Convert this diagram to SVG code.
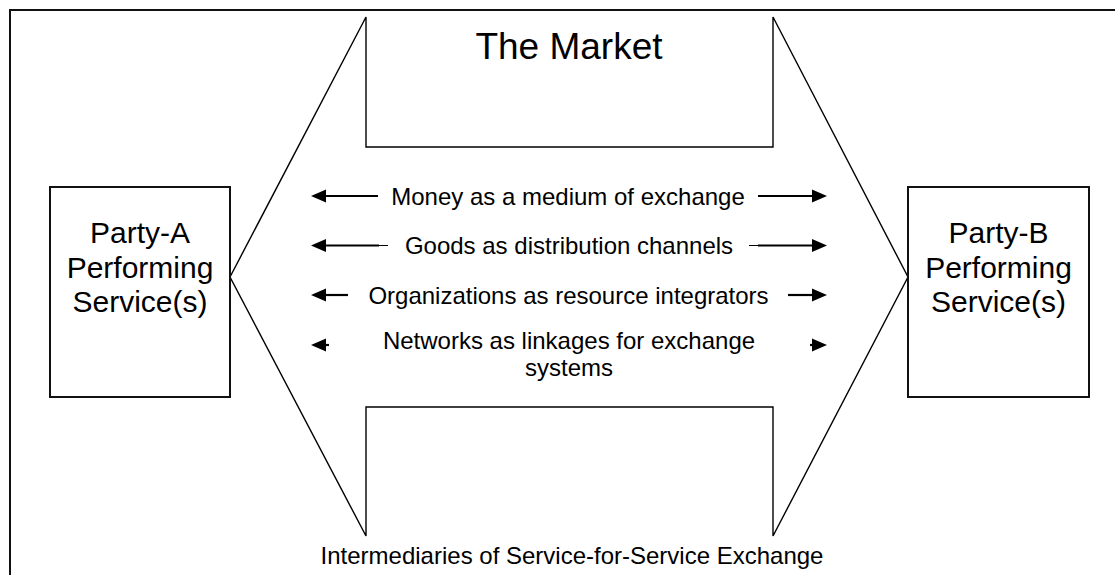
<svg xmlns="http://www.w3.org/2000/svg" width="1115" height="575" viewBox="0 0 1115 575">
  <style>
    .t { font-family: "Liberation Sans", Arial, sans-serif; fill: #000; text-anchor: middle; }
    .row { font-size: 24px; }
    .party { font-size: 30px; }
    .box { fill: #fff; stroke: #111; stroke-width: 2; }
    .shape { fill: none; stroke: #000; stroke-width: 1.4; }
    .frame { fill: none; stroke: #111; stroke-width: 2; }
    .shaft { stroke: #000; stroke-width: 2.2; fill: none; }
    .thin { stroke: #000; stroke-width: 1; fill: none; }
  </style>
  <defs>
    <marker id="ah" markerUnits="userSpaceOnUse" markerWidth="16" markerHeight="14" refX="1" refY="7" orient="auto">
      <path d="M0,0.5 L15,7 L0,13.5 z" fill="#000"/>
    </marker>
  </defs>
  <rect width="1115" height="575" fill="#fff"/>

  <g id="frame">
    <path class="frame" d="M10,575 L10,10 L1115,10"/>
  </g>

  <g id="market">
    <path class="shape" d="M230,277 L366,17 L366,147 L773,147 L773,17 L908,277 L773,536 L773,407 L366,407 L366,536 Z"/>
    <text class="t" x="569" y="59" font-size="37">The Market</text>
  </g>

  <g id="party-a">
    <rect class="box" x="50" y="187" width="180" height="210"/>
    <text class="t party" x="140" y="243">Party-A</text>
    <text class="t party" x="140" y="277.5">Performing</text>
    <text class="t party" x="140" y="311.5">Service(s)</text>
  </g>

  <g id="party-b">
    <rect class="box" x="908" y="187" width="181" height="210"/>
    <text class="t party" x="998.5" y="243">Party-B</text>
    <text class="t party" x="998.5" y="277.5">Performing</text>
    <text class="t party" x="998.5" y="311.5">Service(s)</text>
  </g>

  <g id="labels">
    <text class="t row" x="568" y="204.5">Money as a medium of exchange</text>
    <text class="t row" x="569" y="254">Goods as distribution channels</text>
    <text class="t row" x="568.5" y="304">Organizations as resource integrators</text>
    <text class="t row" x="569" y="348.5">Networks as linkages for exchange</text>
    <text class="t row" x="569" y="376">systems</text>
    <text class="t row" x="572" y="564">Intermediaries of Service-for-Service Exchange</text>
  </g>

  <g id="connectors">
    <line class="shaft" x1="378" y1="196" x2="325" y2="196" marker-end="url(#ah)"/>
    <line class="shaft" x1="758" y1="196" x2="813" y2="196" marker-end="url(#ah)"/>
    <line class="thin" x1="379" y1="245.5" x2="388" y2="245.5"/>
    <line class="shaft" x1="379" y1="245.5" x2="325" y2="245.5" marker-end="url(#ah)"/>
    <line class="thin" x1="749" y1="245.5" x2="758" y2="245.5"/>
    <line class="shaft" x1="758" y1="245.5" x2="813" y2="245.5" marker-end="url(#ah)"/>
    <line class="shaft" x1="348" y1="295" x2="325" y2="295" marker-end="url(#ah)"/>
    <line class="shaft" x1="788" y1="295" x2="813" y2="295" marker-end="url(#ah)"/>
    <line class="shaft" x1="329" y1="345" x2="325" y2="345" marker-end="url(#ah)"/>
    <line class="shaft" x1="810" y1="345" x2="813" y2="345" marker-end="url(#ah)"/>
  </g>
</svg>
